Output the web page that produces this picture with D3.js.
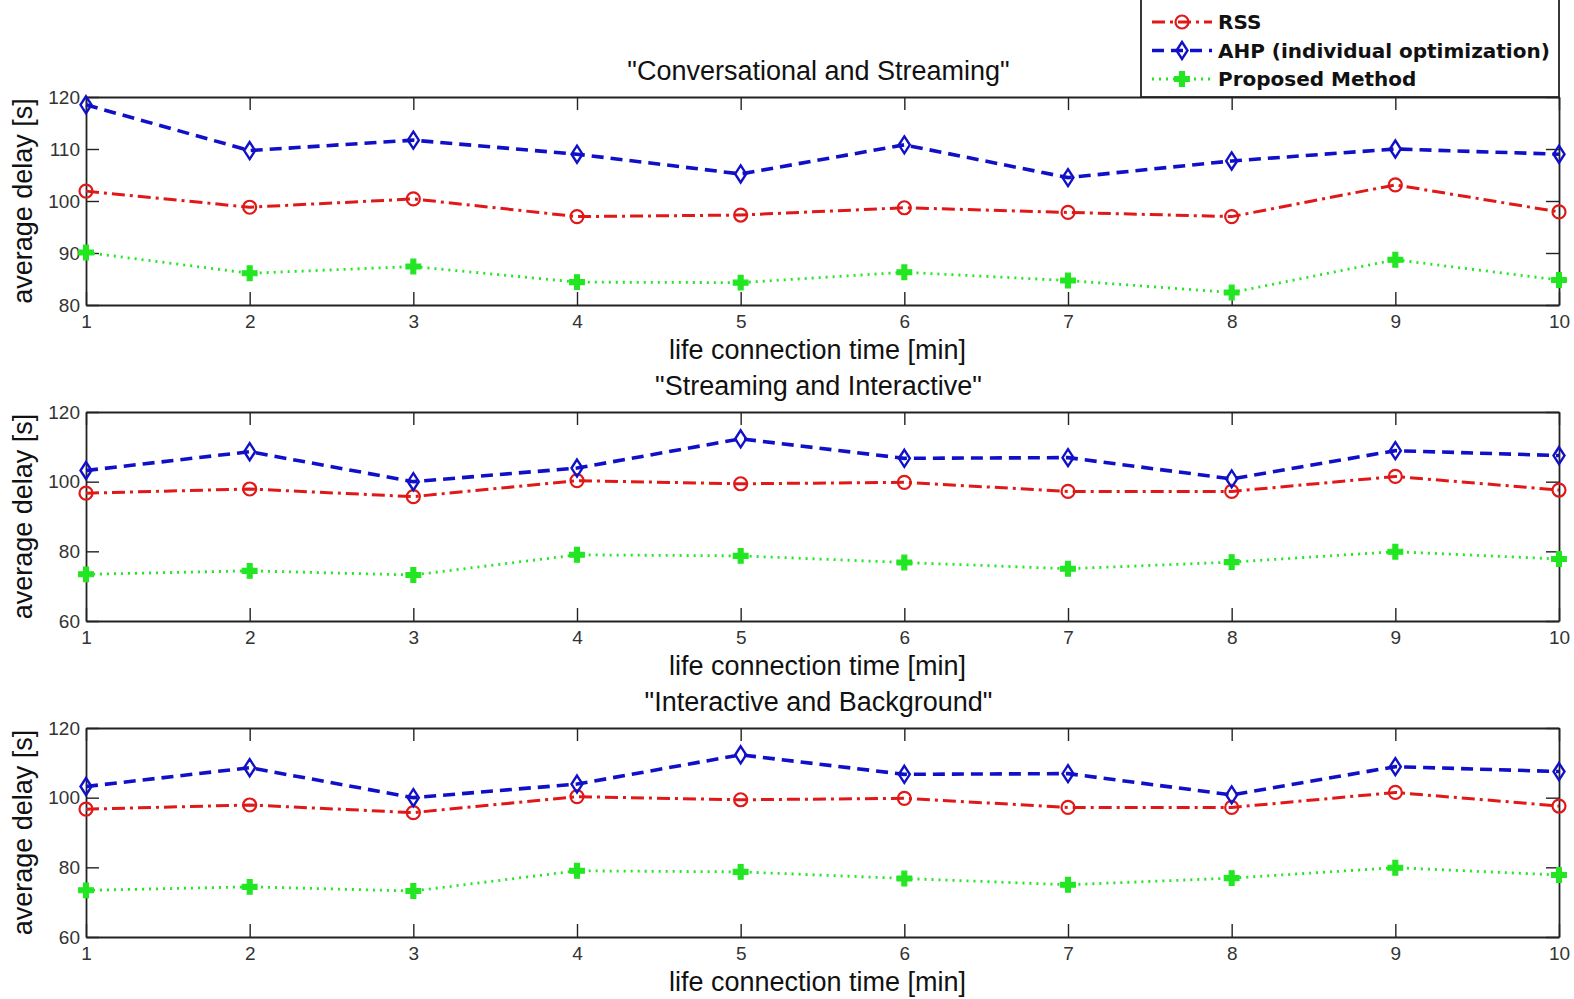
<!DOCTYPE html>
<html>
<head>
<meta charset="utf-8">
<script src="https://cdn.jsdelivr.net/npm/d3@7"></script>
<style>
  body { margin: 0; background: #fff; }
  svg { display: block; }
</style>
</head>
<body>
<div id="chart"></div>
<script>
// data
const xValues = [1, 2, 3, 4, 5, 6, 7, 8, 9, 10];

const titles = ['"Conversational and Streaming"', '"Streaming and Interactive"', '"Interactive and Background"'];

const rss1 = [101.9, 98.8, 100.4, 97.0, 97.3, 98.7, 97.8, 97.0, 103.1, 97.9];
const ahp1 = [118.5, 109.7, 111.7, 109.0, 105.2, 110.8, 104.5, 107.7, 110.0, 109.0];
const prop1 = [90.1, 86.1, 87.4, 84.4, 84.3, 86.3, 84.7, 82.4, 88.7, 84.8];

const rss2 = [96.7, 97.9, 95.7, 100.3, 99.4, 99.8, 97.2, 97.2, 101.5, 97.6];
const ahp2 = [103.2, 108.6, 100.0, 103.9, 112.3, 106.7, 106.9, 100.8, 108.9, 107.5];
const prop2 = [73.4, 74.4, 73.2, 79.0, 78.7, 76.8, 75.0, 76.9, 79.9, 77.8];

const rss3 = [96.7, 97.9, 95.7, 100.3, 99.4, 99.8, 97.2, 97.2, 101.5, 97.6];
const ahp3 = [103.2, 108.6, 100.0, 103.9, 112.3, 106.7, 106.9, 100.8, 108.9, 107.5];
const prop3 = [73.4, 74.4, 73.2, 79.0, 78.7, 76.8, 75.0, 76.9, 79.9, 77.8];

const yTicks1 = [80, 90, 100, 110, 120];
const yTicks2 = [60, 80, 100, 120];
const yTicks3 = [60, 80, 100, 120];

const seriesNames = ["RSS", "AHP (individual optimization)", "Proposed Method"];

// Set up SVG dimensions
const w = 1574;
const h = 999;
const left = 86, right = 1559;
const tickLen = 13;

const panels = [
  {title: titles[0], top: 97, bottom: 305, ticks: yTicks1, series: [rss1, ahp1, prop1]},
  {title: titles[1], top: 412, bottom: 621, ticks: yTicks2, series: [rss2, ahp2, prop2]},
  {title: titles[2], top: 728, bottom: 937, ticks: yTicks3, series: [rss3, ahp3, prop3]}
];

const styles = [
  {color: "#e01818", dash: "13,5,3,5", width: 3, marker: "circle"},
  {color: "#1010c8", dash: "12,7", width: 3.6, marker: "diamond"},
  {color: "#22e622", dash: "2,5", width: 2.8, marker: "cross"}
];

const svg = d3.select("#chart")
  .append("svg")
  .attr("width", w)
  .attr("height", h)
  .style("background-color", "white");

const xScale = d3.scaleLinear()
  .domain([1, 10])
  .range([left, right]);

const font = "'Liberation Sans', Arial, sans-serif";

function drawMarker(g, type, color, x, y) {
  if (type === "circle") {
    g.append("circle")
      .attr("cx", x).attr("cy", y).attr("r", 6.5)
      .attr("fill", "none")
      .attr("stroke", color).attr("stroke-width", 2.2);
  } else if (type === "diamond") {
    g.append("path")
      .attr("d", `M${x},${y - 8.5}L${x + 5.5},${y}L${x},${y + 8.5}L${x - 5.5},${y}Z`)
      .attr("fill", "none")
      .attr("stroke", color).attr("stroke-width", 2.4);
  } else {
    g.append("path")
      .attr("transform", `translate(${x},${y})`)
      .attr("d", d3.symbol().type(d3.symbolCross).size(120)())
      .attr("fill", color)
      .attr("stroke", color).attr("stroke-width", 1.2);
  }
}

panels.forEach(function (p) {
  const yScale = d3.scaleLinear()
    .domain([p.ticks[0], p.ticks[p.ticks.length - 1]])
    .range([p.bottom, p.top]);

  const g = svg.append("g");

  // axes with inward ticks
  const xAxis = d3.axisBottom(xScale).tickValues(xValues).tickSizeInner(-tickLen).tickSizeOuter(0).tickPadding(10).tickFormat(d3.format("d"));
  const xAxisTop = d3.axisTop(xScale).tickValues(xValues).tickSizeInner(-tickLen).tickSizeOuter(0).tickFormat("");
  const yAxis = d3.axisLeft(yScale).tickValues(p.ticks).tickSizeInner(-tickLen).tickSizeOuter(0).tickPadding(6);
  const yAxisRight = d3.axisRight(yScale).tickValues(p.ticks).tickSizeInner(-tickLen).tickSizeOuter(0).tickFormat("");

  [
    [xAxis, `translate(0,${p.bottom})`],
    [xAxisTop, `translate(0,${p.top})`],
    [yAxis, `translate(${left},0)`],
    [yAxisRight, `translate(${right},0)`]
  ].forEach(function (a) {
    const ax = g.append("g").attr("transform", a[1]).call(a[0]);
    ax.select(".domain").attr("stroke", "#222").attr("stroke-width", 1.8);
    ax.selectAll(".tick line").attr("stroke", "#222").attr("stroke-width", 1.4);
    ax.selectAll("text")
      .style("font-family", font)
      .style("font-size", "19px")
      .attr("fill", "#333");
  });

  // lines and markers
  p.series.forEach(function (vals, i) {
    const s = styles[i];
    const line = d3.line()
      .x((d, k) => xScale(xValues[k]))
      .y((d) => yScale(d));
    g.append("path")
      .datum(vals)
      .attr("d", line)
      .attr("fill", "none")
      .attr("stroke", s.color)
      .attr("stroke-width", s.width)
      .attr("stroke-dasharray", s.dash);
    vals.forEach(function (v, k) {
      drawMarker(g, s.marker, s.color, xScale(xValues[k]), yScale(v));
    });
  });

  // title
  g.append("text")
    .attr("x", (left + right) / 2 - 4)
    .attr("y", p.top - 17)
    .attr("text-anchor", "middle")
    .style("font-family", font)
    .style("font-size", "27px")
    .attr("fill", "#111")
    .text(p.title);

  // x label
  g.append("text")
    .attr("x", (left + right) / 2 - 5)
    .attr("y", p.bottom + 54)
    .attr("text-anchor", "middle")
    .style("font-family", font)
    .style("font-size", "27px")
    .attr("fill", "#111")
    .text("life connection time [min]");

  // y label
  g.append("text")
    .attr("transform", `translate(32,${(p.top + p.bottom) / 2}) rotate(-90)`)
    .attr("text-anchor", "middle")
    .style("font-family", font)
    .style("font-size", "27px")
    .attr("fill", "#111")
    .text("average delay [s]");
});

// legend box (top edge runs off the picture)
const leg = svg.append("g");
leg.append("rect")
  .attr("x", 1141)
  .attr("y", -10)
  .attr("width", right - 1141)
  .attr("height", 97 + 10)
  .attr("fill", "white")
  .attr("stroke", "#222")
  .attr("stroke-width", 1.8);

seriesNames.forEach(function (name, i) {
  const s = styles[i];
  const y = 22 + i * 28.5;
  leg.append("line")
    .attr("x1", 1152).attr("x2", 1212)
    .attr("y1", y).attr("y2", y)
    .attr("stroke", s.color)
    .attr("stroke-width", s.width)
    .attr("stroke-dasharray", s.dash);
  drawMarker(leg, s.marker, s.color, 1182, y);
  leg.append("text")
    .attr("x", 1218)
    .attr("y", y + 7)
    .style("font-family", "'DejaVu Sans', sans-serif")
    .style("font-weight", "bold")
    .style("font-size", "20px")
    .attr("fill", "#111")
    .text(name);
});
</script>
</body>
</html>
